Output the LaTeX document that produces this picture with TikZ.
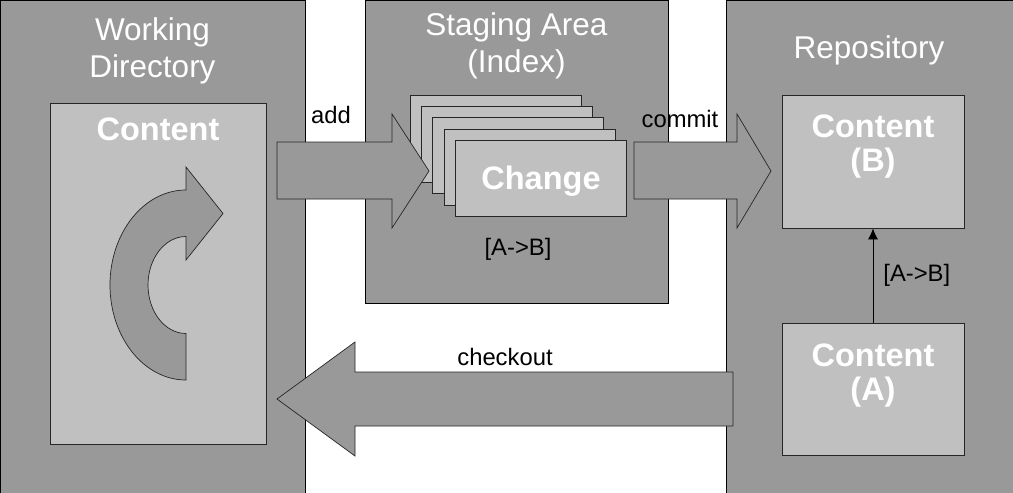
\documentclass[tikz,border=0pt]{standalone}
\usepackage{fontspec}
\setmainfont{Liberation Sans}
\usetikzlibrary{arrows.meta}
\definecolor{panelgray}{HTML}{999999}
\definecolor{boxgray}{HTML}{C0C0C0}
\tikzset{
  panel/.style={fill=panelgray, draw=black, line width=0.8pt},
  box/.style={fill=boxgray, draw=black!85, line width=0.8pt, inner sep=0pt},
  blockarrow/.style={fill=panelgray, draw=black!85, line width=0.7pt, line join=miter},
  title/.style={text=white, font=\fontsize{31.5}{37}\selectfont, align=center, anchor=base, inner sep=0pt},
  boxlabel/.style={text=white, font=\bfseries\fontsize{32.5}{34}\selectfont, align=center, anchor=base, inner sep=0pt},
  steplabel/.style={text=black, font=\fontsize{23.8}{28}\selectfont, anchor=base, inner sep=0pt}
}
\begin{document}
\begin{tikzpicture}[x=1pt, y=-1pt]
  \useasboundingbox (0,0) rectangle (1013,493);
  % three areas
  \draw[panel] (0,0) rectangle (305,496);
  \draw[panel] (365,0) rectangle (668,303);
  \draw[panel] (726,0) rectangle (1016,496);
  \node[title] (wdtitle) at (152.5,77) {Working\\Directory};
  \node[title] (sttitle) at (516.5,72) {Staging Area\\(Index)};
  \node[title] (repotitle) at (869,58) {Repository};

  % working directory
  \node[box, minimum width=216, minimum height=341] (wdbox) at (158,273.5) {};
  \node[boxlabel] (wdtext) at (158,140) {Content};
  \draw[blockarrow] (186,380) arc[start angle=90, end angle=270, x radius=76, y radius=95]
    -- (186,167) -- (223,213.5) -- (186,260) -- (186,236.5)
    arc[start angle=270, end angle=90, x radius=38, y radius=48.5] -- cycle;

  % staging area
  \foreach \i in {0,...,4}
    \node[box, minimum width=171, minimum height=76] (chg\i) at (495.5+11.4*\i,133+11.4*\i) {};
  \node[boxlabel] (chgtext) at (541,189) {Change};
  \node[steplabel] (chglabel) at (518,255) {[A->B]};

  % repository
  \node[box, minimum width=182, minimum height=133] (contentB) at (873,161.5) {};
  \node[boxlabel] (Btext) at (873,171) {Content\\(B)};
  \node[box, minimum width=182, minimum height=132] (contentA) at (873,389) {};
  \node[boxlabel] (Atext) at (873,400) {Content\\(A)};
  \draw[-{Latex[length=11pt,width=10pt]}, line width=0.8pt] (contentA.north) -- (contentB.south)
    node[steplabel, midway, anchor=west, xshift=10pt] (repolabel) {[A->B]};

  % block arrows
  \draw[blockarrow] (277,142) -- (392,142) -- (392,114) -- (429,171)
    -- (392,228) -- (392,199) -- (277,199) -- cycle;
  \draw[blockarrow] (634,142) -- (737,142) -- (737,114) -- (771,171)
    -- (737,228) -- (737,199) -- (634,199) -- cycle;
  \draw[blockarrow] (733,372) -- (355,372) -- (355,342) -- (277,399)
    -- (355,456) -- (355,426) -- (733,426) -- cycle;
  \node[steplabel] (addlabel) at (331,123) {add};
  \node[steplabel] (commitlabel) at (680,127) {commit};
  \node[steplabel] (checkoutlabel) at (505,365) {checkout};
\end{tikzpicture}
\end{document}
